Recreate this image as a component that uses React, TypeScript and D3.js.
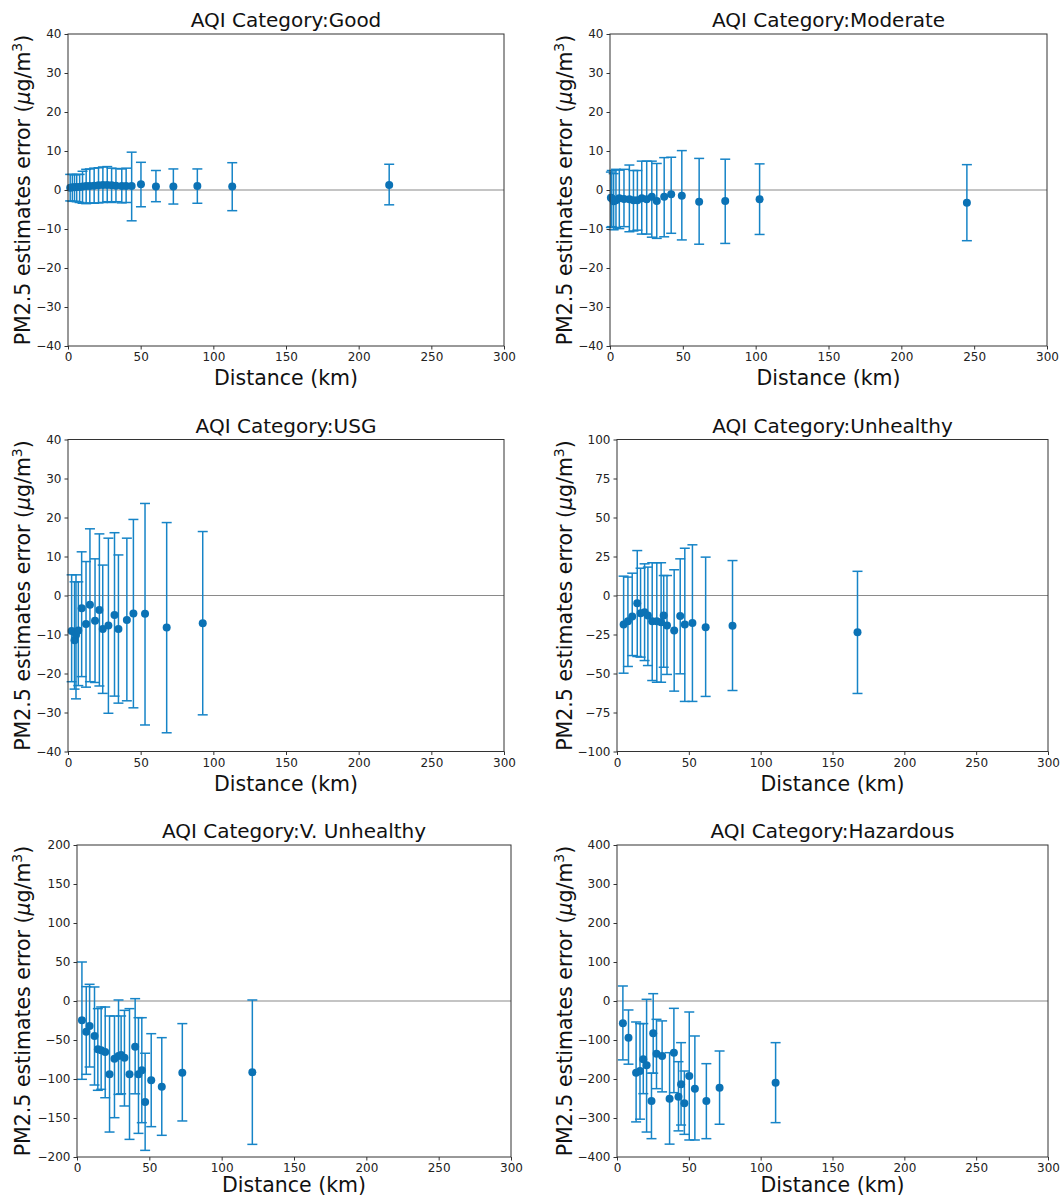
import { useEffect, useRef } from "react";
import * as d3 from "d3";

// --- AQI Category: Good ---
const goodDist = [1.5, 3, 4.5, 6, 8, 10, 12.5, 15, 18, 21, 24, 27, 30, 33, 37, 40, 43.8, 50.2, 60.5, 72.5, 89, 113, 221];
const goodMean = [0.6, 0.7, 0.7, 0.8, 0.8, 0.9, 1.0, 1.0, 1.1, 1.2, 1.3, 1.3, 1.2, 1.1, 1.0, 1.0, 1.0, 1.5, 0.9, 0.9, 1.0, 0.9, 1.3];
const goodLow = [-2.8, -2.9, -2.9, -3.0, -3.2, -3.4, -3.5, -3.3, -3.4, -3.3, -3.2, -3.0, -3.2, -3.0, -3.3, -3.2, -7.9, -4.3, -3.0, -3.6, -3.4, -5.3, -3.8];
const goodHigh = [4.0, 4.0, 3.9, 4.0, 4.0, 4.8, 5.3, 5.4, 5.6, 5.7, 5.9, 6.0, 5.6, 5.5, 5.4, 5.6, 9.7, 7.1, 5.0, 5.4, 5.4, 7.0, 6.6];

// --- AQI Category: Moderate ---
const modDist = [0.6, 1.2, 2.5, 4.1, 6.4, 9.6, 13.3, 16.1, 18.8, 21.8, 25.2, 28.7, 32.1, 37.2, 42, 49.3, 61.2, 79.1, 102.7, 245];
const modMean = [-2.0, -2.1, -2.9, -2.6, -2.1, -2.3, -2.4, -2.6, -2.6, -2.1, -2.4, -1.7, -2.8, -1.7, -1.1, -1.5, -3.0, -2.8, -2.4, -3.3];
const modLow = [-9.6, -9.4, -10.2, -9.6, -9.9, -9.4, -10.7, -10.5, -10.3, -11.3, -11.3, -12.1, -12.4, -12.0, -11.1, -12.8, -13.9, -13.7, -11.4, -13.0];
const modHigh = [4.6, 5.0, 4.2, 5.3, 5.1, 5.3, 6.4, 5.0, 5.0, 7.4, 7.4, 7.4, 6.8, 8.3, 8.4, 10.1, 8.1, 7.9, 6.7, 6.5];

// --- AQI Category: USG ---
const usgDist = [2.5, 4.5, 5.5, 7.1, 9.4, 12.4, 15.1, 18.6, 21.6, 23.9, 27.8, 32, 34.7, 40.5, 45, 53, 67.9, 92.7];
const usgMean = [-9.1, -11.5, -10.1, -9.0, -3.3, -7.3, -2.4, -6.5, -3.7, -8.6, -7.7, -5.0, -8.6, -6.3, -4.6, -4.7, -8.2, -7.1];
const usgLow = [-22.1, -24.0, -26.5, -23.1, -20.8, -23.5, -22.1, -22.3, -23.2, -25.1, -30.2, -25.8, -27.6, -27.0, -28.8, -33.2, -35.2, -30.6];
const usgHigh = [5.3, 3.5, 5.3, 3.5, 11.2, 8.7, 17.1, 9.4, 15.8, 7.8, 14.7, 16.1, 10.4, 14.7, 19.5, 23.6, 18.7, 16.4];

// --- AQI Category: Unhealthy ---
const unhDist = [4.6, 7.6, 10.6, 14.1, 16.4, 19.2, 21.5, 24.5, 27.7, 30.7, 32.5, 34.8, 39.8, 44, 47.2, 52.5, 61.7, 80.4, 167.4];
const unhMean = [-18.6, -16.5, -13.5, -4.9, -11.3, -10.7, -12.8, -16.5, -16.5, -17.1, -12.8, -19.2, -22.4, -13.2, -18.6, -17.7, -20.3, -19.4, -23.5];
const unhLow = [-49.8, -45.5, -38.5, -39.1, -39.5, -41.7, -44.9, -54.5, -55.6, -55.6, -46.0, -50.6, -61.3, -50.2, -67.9, -67.9, -64.7, -60.9, -62.8];
const unhHigh = [12.4, 11.8, 14.3, 28.8, 17.5, 20.3, 18.2, 21.0, 21.0, 21.0, 12.8, 12.8, 16.5, 23.5, 30.3, 32.5, 24.6, 22.4, 15.5];

// --- AQI Category: V. Unhealthy ---
const vuhDist = [3.4, 6.4, 8.7, 12.1, 14.4, 16.7, 19.5, 22.5, 25.9, 28.7, 30.5, 32.8, 36.3, 40.2, 42.5, 44.8, 47.1, 51.3, 58.6, 72.8, 121.2];
const vuhMean = [-24.8, -39.3, -32.0, -44.9, -62.0, -63.2, -65.4, -94.0, -73.9, -70.5, -69.2, -72.6, -94.0, -58.5, -94.0, -88.9, -129.5, -101.7, -109.8, -91.9, -91.5];
const vuhLow = [-100.4, -94.0, -84.6, -107.7, -114.5, -113.2, -124.0, -168.0, -149.6, -119.7, -119.0, -134.6, -177.4, -119.0, -169.7, -156.0, -191.5, -161.1, -172.2, -153.8, -183.8];
const vuhHigh = [50.0, 18.4, 21.4, 18.0, -9.8, -7.7, -7.7, -19.2, -19.2, 1.3, -19.2, -12.0, -9.8, 3.0, -21.4, -21.4, -67.0, -41.9, -47.0, -29.0, 1.3];

// --- AQI Category: Hazardous ---
const hazDist = [4.1, 8, 13.3, 16, 18.3, 20.6, 24, 25.2, 27.5, 31.4, 36.6, 39.6, 42.8, 44.6, 46.9, 50.3, 54.2, 62.2, 71.4, 110.4];
const hazMean = [-57.3, -94.0, -183.8, -179.5, -149.6, -165.0, -256.4, -83.0, -135.0, -141.0, -250.4, -132.5, -245.3, -213.7, -262.4, -192.3, -224.8, -256.4, -222.2, -209.4];
const hazLow = [-151, -162, -310, -303, -237.6, -336, -353, -185, -224.8, -233, -367, -235, -333, -318, -341.9, -356.4, -356.4, -353, -316, -311.9];
const hazHigh = [38.5, -23, -53.8, -58, -58, 4.3, -185, 18.8, -47, -51, -132.5, -18.8, -155.6, -106.8, -179.5, -28.2, -89.7, -160.7, -128.2, -106.8];

const xTicks = [0, 50, 100, 150, 200, 250, 300];
const ticks40 = [-40, -30, -20, -10, 0, 10, 20, 30, 40];
const ticks100 = [-100, -75, -50, -25, 0, 25, 50, 75, 100];
const ticks200 = [-200, -150, -100, -50, 0, 50, 100, 150, 200];
const ticks400 = [-400, -300, -200, -100, 0, 100, 200, 300, 400];

const titles = [
  "AQI Category:Good",
  "AQI Category:Moderate",
  "AQI Category:USG",
  "AQI Category:Unhealthy",
  "AQI Category:V. Unhealthy",
  "AQI Category:Hazardous",
];

const W = 1063;
const H = 1199;
const plotH = 312;

const panels = [
  { title: titles[0], dist: goodDist, mean: goodMean, low: goodLow, high: goodHigh, yTicks: ticks40, left: 68, width: 436, top: 34, labelX: 30, xlabGap: 39 },
  { title: titles[1], dist: modDist, mean: modMean, low: modLow, high: modHigh, yTicks: ticks40, left: 610, width: 437, top: 34, labelX: 572, xlabGap: 39 },
  { title: titles[2], dist: usgDist, mean: usgMean, low: usgLow, high: usgHigh, yTicks: ticks40, left: 68, width: 436, top: 439.5, labelX: 30, xlabGap: 39 },
  { title: titles[3], dist: unhDist, mean: unhMean, low: unhLow, high: unhHigh, yTicks: ticks100, left: 617, width: 431, top: 439.5, labelX: 572, xlabGap: 39 },
  { title: titles[4], dist: vuhDist, mean: vuhMean, low: vuhLow, high: vuhHigh, yTicks: ticks200, left: 77, width: 434, top: 845, labelX: 30, xlabGap: 35 },
  { title: titles[5], dist: hazDist, mean: hazMean, low: hazLow, high: hazHigh, yTicks: ticks400, left: 617, width: 431, top: 845, labelX: 572, xlabGap: 35 },
];

const font = "'DejaVu Sans', sans-serif";
const barColor = "#1684c7";
const dotColor = "#0b72b5";

const App = () => {
  const svgRef = useRef<SVGSVGElement>(null);

  useEffect(() => {
    const svg = d3.select(svgRef.current);
    svg.selectAll("*").remove();

    svg.append("rect").attr("width", W).attr("height", H).attr("fill", "#fff");

    panels.forEach((p) => {
      const x = d3.scaleLinear().domain([0, 300]).range([p.left, p.left + p.width]);
      const yMax = d3.max(p.yTicks) as number;
      const y = d3.scaleLinear().domain([-yMax, yMax]).range([p.top + plotH, p.top]);
      const g = svg.append("g");

      // zero line
      g.append("line")
        .attr("x1", p.left)
        .attr("x2", p.left + p.width)
        .attr("y1", y(0))
        .attr("y2", y(0))
        .attr("stroke", "#8a8a8a")
        .attr("stroke-width", 1.2);

      // error bars
      const bars = g.selectAll(".eb").data(p.dist).enter().append("g");
      bars.append("line")
        .attr("x1", (d) => x(d))
        .attr("x2", (d) => x(d))
        .attr("y1", (d, i) => y(p.low[i]))
        .attr("y2", (d, i) => y(p.high[i]))
        .attr("stroke", barColor)
        .attr("stroke-width", 1.5);
      bars.append("line")
        .attr("x1", (d) => x(d) - 5)
        .attr("x2", (d) => x(d) + 5)
        .attr("y1", (d, i) => y(p.low[i]))
        .attr("y2", (d, i) => y(p.low[i]))
        .attr("stroke", barColor)
        .attr("stroke-width", 1.5);
      bars.append("line")
        .attr("x1", (d) => x(d) - 5)
        .attr("x2", (d) => x(d) + 5)
        .attr("y1", (d, i) => y(p.high[i]))
        .attr("y2", (d, i) => y(p.high[i]))
        .attr("stroke", barColor)
        .attr("stroke-width", 1.5);

      // points
      g.selectAll(".pt")
        .data(p.dist)
        .enter()
        .append("circle")
        .attr("cx", (d) => x(d))
        .attr("cy", (d, i) => y(p.mean[i]))
        .attr("r", 4)
        .attr("fill", dotColor);

      // axes
      const xAxis = g.append("g")
        .attr("transform", `translate(0, ${p.top + plotH})`)
        .call(d3.axisBottom(x).tickValues(xTicks).tickSize(3.5).tickPadding(3));
      const yAxis = g.append("g")
        .attr("transform", `translate(${p.left}, 0)`)
        .call(d3.axisLeft(y).tickValues(p.yTicks).tickSize(3.5).tickPadding(3));
      [xAxis, yAxis].forEach((a) => {
        a.select(".domain").remove();
        a.selectAll("line").attr("stroke", "#333");
        a.selectAll("text").style("font-family", font).style("font-size", "12px").attr("fill", "#222");
      });

      // frame
      g.append("rect")
        .attr("x", p.left)
        .attr("y", p.top)
        .attr("width", p.width)
        .attr("height", plotH)
        .attr("fill", "none")
        .attr("stroke", "#333")
        .attr("stroke-width", 1);

      // title
      g.append("text")
        .attr("x", p.left + p.width / 2)
        .attr("y", p.top - 7)
        .attr("text-anchor", "middle")
        .style("font-family", font)
        .style("font-size", "20px")
        .attr("fill", "#111")
        .text(p.title);

      // x label
      g.append("text")
        .attr("x", p.left + p.width / 2)
        .attr("y", p.top + plotH + p.xlabGap)
        .attr("text-anchor", "middle")
        .style("font-family", font)
        .style("font-size", "20.5px")
        .attr("fill", "#111")
        .text("Distance (km)");

      // y label
      const yl = g.append("text")
        .attr("transform", `translate(${p.labelX}, ${p.top + plotH / 2}) rotate(-90)`)
        .attr("text-anchor", "middle")
        .style("font-family", font)
        .style("font-size", "20.5px")
        .attr("fill", "#111");
      yl.append("tspan").text("PM2.5 estimates error (");
      yl.append("tspan").attr("font-style", "italic").text("μ");
      yl.append("tspan").text("g/m");
      yl.append("tspan").attr("dy", -8).style("font-size", "14px").text("3");
      yl.append("tspan").attr("dy", 8).text(")");
    });
  }, []);

  return (
    <svg
      ref={svgRef}
      width={W}
      height={H}
      viewBox={`0 0 ${W} ${H}`}
      style={{ position: "absolute", left: 0, top: 0 }}
    ></svg>
  );
};

export default App;
